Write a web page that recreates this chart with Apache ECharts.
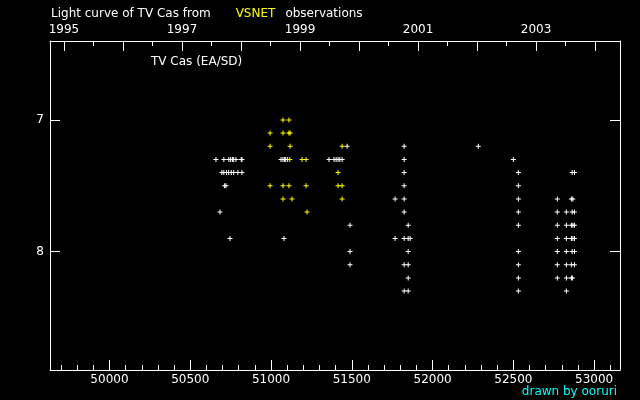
<html>
<head>
<meta charset="utf-8"/>
<title>TV Cas light curve</title>
<script src="https://cdn.jsdelivr.net/npm/echarts@6/dist/echarts.min.js"></script>
<style>
  body { margin: 0; padding: 0; background: #000; }
  #chart { width: 640px; height: 400px; }
</style>
</head>
<body>
<div id="chart"></div>
<script type="text/javascript">
// observations: JD - 2400000, visual magnitude
let whiteJd = [
  50659, 50708, 50739, 50750, 50761, 50769, 50783, 50816, 50820,
  50696, 50708, 50725, 50738, 50754, 50769, 50795, 50820,
  50713, 50721, 50684, 50746,
  51062, 51074, 51083, 51091, 51103, 51080,
  51471, 51359, 51390, 51403, 51415, 51426, 51440, 51489, 51489, 51489,
  51824, 51824, 51824, 51824, 51768, 51824, 51824, 51849,
  51768, 51824, 51849, 51861, 51849, 51824, 51849, 51849, 51824, 51849,
  52283, 52500,
  52531, 52531, 52531, 52531, 52531, 52531, 52531, 52531, 52531,
  52864, 52878,
  52772, 52859, 52868,
  52772, 52828, 52864, 52878,
  52772, 52828, 52859, 52868, 52878,
  52772, 52828, 52859, 52868, 52878,
  52772, 52828, 52864, 52878,
  52772, 52828, 52859, 52878,
  52772, 52828, 52859, 52865,
  52828
];
let whiteMag = [
  7.3, 7.3, 7.3, 7.3, 7.3, 7.3, 7.3, 7.3, 7.3,
  7.4, 7.4, 7.4, 7.4, 7.4, 7.4, 7.4, 7.4,
  7.5, 7.5, 7.7, 7.9,
  7.3, 7.3, 7.3, 7.3, 7.3, 7.9,
  7.2, 7.3, 7.3, 7.3, 7.3, 7.3, 7.3, 7.8, 8.0, 8.1,
  7.2, 7.3, 7.4, 7.5, 7.6, 7.6, 7.7, 7.8,
  7.9, 7.9, 7.9, 7.9, 8.0, 8.1, 8.1, 8.2, 8.3, 8.3,
  7.2, 7.3,
  7.4, 7.5, 7.6, 7.7, 7.8, 8.0, 8.1, 8.2, 8.3,
  7.4, 7.4,
  7.6, 7.6, 7.6,
  7.7, 7.7, 7.7, 7.7,
  7.8, 7.8, 7.8, 7.8, 7.8,
  7.9, 7.9, 7.9, 7.9, 7.9,
  8.0, 8.0, 8.0, 8.0,
  8.1, 8.1, 8.1, 8.1,
  8.2, 8.2, 8.2, 8.2,
  8.3
];
let yellowJd = [
  51074, 51111,
  50994, 51074, 51111, 51118,
  50994, 51118,
  51116, 51192, 51217,
  50994, 51074, 51111, 51217,
  51074, 51130,
  51223,
  51440, 51415, 51415, 51440, 51440
];
let yellowMag = [
  7.0, 7.0,
  7.1, 7.1, 7.1, 7.1,
  7.2, 7.2,
  7.3, 7.3, 7.3,
  7.5, 7.5, 7.5, 7.5,
  7.6, 7.6,
  7.7,
  7.2, 7.4, 7.5, 7.5, 7.6
];

// axis ticks
let jdLabels = [50000, 50500, 51000, 51500, 52000, 52500, 53000];
let yearLabels = [1995, 1997, 1999, 2001, 2003];
let yearTicks = [1995, 1996, 1997, 1998, 1999, 2000, 2001, 2002, 2003, 2004];
let magLabels = [7, 8];

let jdMin = 49632, jdMax = 53160;
let magMin = 6.4, magMax = 8.9;

function yearToJd(y) {
  return 49718.5 + (y - 1995) * 365.25;
}
function jdToYear(jd) {
  return 1995 + (jd - 49718.5) / 365.25;
}

let jdMinor = [];
for (let v = 49700; v <= jdMax; v += 100) jdMinor.push(v);
let yearMinor = [];
yearTicks.forEach((y) => { yearMinor.push(yearToJd(y)); yearMinor.push(yearToJd(y + 0.5)); });
yearMinor = yearMinor.filter((v) => v < jdMax);

let plus = 'path://M2 0h1v5h-1zM0 2h5v1h-5z';
let lineStyle = { color: '#fff', width: 1 };
let font = 'DejaVu Sans';

function zip(xs, ys) {
  return xs.map((x, i) => [x, ys[i]]);
}

let chart = echarts.init(document.getElementById('chart'));
let gridBox = { left: 50, right: 20, top: 41, bottom: 30, containLabel: false };

chart.setOption({
  backgroundColor: '#000',
  animation: false,
  title: [
    {
      text: '{w|Light curve of TV Cas from}     {y|VSNET}  {w|observations}',
      left: 46, top: 0,
      textStyle: {
        fontWeight: 'normal',
        rich: {
          w: { color: '#fff', fontSize: 12, fontWeight: 'normal', fontFamily: font },
          y: { color: '#ffff00', fontSize: 12, fontWeight: 'normal', fontFamily: font }
        }
      }
    },
    {
      text: 'TV Cas (EA/SD)',
      left: 146, top: 51,
      textStyle: { color: '#fff', fontSize: 12, fontWeight: 'normal', fontFamily: font }
    },
    {
      text: 'drawn by ooruri',
      right: 18, top: 381,
      textStyle: { color: '#00ffff', fontSize: 12, fontWeight: 'normal', fontFamily: font }
    }
  ],
  grid: [gridBox, Object.assign({}, gridBox)],
  xAxis: [
    {
      gridIndex: 0, type: 'value', position: 'bottom', min: jdMin, max: jdMax,
      axisLine: { lineStyle: lineStyle },
      axisTick: { inside: true, length: 10, lineStyle: lineStyle, customValues: jdLabels },
      axisLabel: { color: '#fff', fontSize: 12, fontFamily: font, margin: 4, customValues: jdLabels,
        formatter: (v) => String(v) },
      splitLine: { show: false }
    },
    {
      gridIndex: 0, type: 'value', position: 'top', min: jdMin, max: jdMax,
      axisLine: { lineStyle: lineStyle },
      axisTick: { inside: true, length: 10, lineStyle: lineStyle, customValues: yearTicks.map(yearToJd) },
      axisLabel: { color: '#fff', fontSize: 12, fontFamily: font, margin: 5,
        customValues: yearLabels.map(yearToJd),
        formatter: (v) => String(Math.round(jdToYear(v))) },
      splitLine: { show: false }
    },
    {
      gridIndex: 1, type: 'value', position: 'bottom', min: jdMin, max: jdMax,
      axisLine: { show: false },
      axisTick: { inside: true, length: 5, lineStyle: lineStyle, customValues: jdMinor },
      axisLabel: { show: false },
      splitLine: { show: false }
    },
    {
      gridIndex: 1, type: 'value', position: 'top', min: jdMin, max: jdMax,
      axisLine: { show: false },
      axisTick: { inside: true, length: 5, lineStyle: lineStyle, customValues: yearMinor },
      axisLabel: { show: false },
      splitLine: { show: false }
    }
  ],
  yAxis: [
    {
      gridIndex: 0, type: 'value', position: 'left', inverse: true, min: magMin, max: magMax,
      axisLine: { show: true, lineStyle: lineStyle },
      axisTick: { show: true, inside: true, length: 10, lineStyle: lineStyle, customValues: magLabels },
      axisLabel: { color: '#fff', fontSize: 12, fontFamily: font, margin: 6, customValues: magLabels },
      splitLine: { show: false }
    },
    {
      gridIndex: 0, type: 'value', position: 'right', inverse: true, min: magMin, max: magMax,
      axisLine: { show: true, lineStyle: lineStyle },
      axisTick: { show: true, inside: true, length: 10, lineStyle: lineStyle, customValues: magLabels },
      axisLabel: { show: false },
      splitLine: { show: false }
    },
    {
      gridIndex: 1, type: 'value', inverse: true, min: magMin, max: magMax, show: false
    }
  ],
  series: [
    {
      type: 'scatter', xAxisIndex: 0, yAxisIndex: 0,
      symbol: plus, symbolSize: 5,
      itemStyle: { color: '#fff', opacity: 1 },
      data: zip(whiteJd, whiteMag)
    },
    {
      type: 'scatter', xAxisIndex: 0, yAxisIndex: 0,
      symbol: plus, symbolSize: 5,
      itemStyle: { color: '#ffff00', opacity: 1 },
      data: zip(yellowJd, yellowMag)
    }
  ]
});
</script>
</body>
</html>
